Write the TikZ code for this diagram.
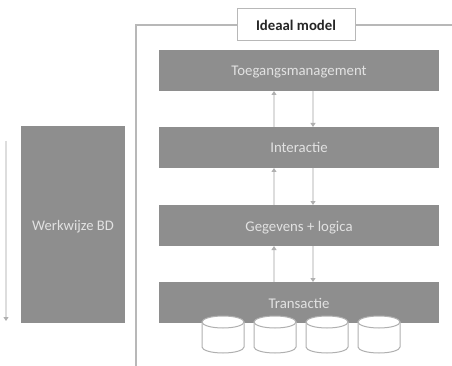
\documentclass[tikz,border=0pt]{standalone}
\usepackage{fontspec}
\setmainfont{Carlito}
\usetikzlibrary{arrows.meta,calc}
\definecolor{boxgray}{HTML}{8E8E8E}
\definecolor{boxtext}{HTML}{E2E2E2}
\definecolor{linkgray}{HTML}{DDDDDD}
\definecolor{headgray}{HTML}{B0B0B0}
\definecolor{framegray}{HTML}{B8B8B8}
\definecolor{cylgray}{HTML}{B0B0B0}
\tikzset{
  labelled/.style={text height=11pt,text depth=0pt,inner sep=0pt,outer sep=0pt},
  layerbox/.style={labelled,fill=boxgray,draw=none,text=boxtext,minimum width=280pt,minimum height=41pt,font=\fontsize{14.8}{16}\selectfont},
  sidebox/.style={labelled,fill=boxgray,draw=none,text=boxtext,minimum width=104pt,minimum height=197pt,font=\fontsize{14.6}{16}\selectfont},
  titlebox/.style={labelled,fill=white,draw=framegray,line width=1pt,minimum width=118pt,minimum height=32pt,font=\fontsize{14.8}{16}\selectfont\bfseries,text=black!85},
  frameline/.style={draw=framegray,line width=1.6pt},
  link/.style={draw=linkgray,line width=1.5pt,-{Triangle[length=4pt,width=5pt,color=headgray]}},
  dbline/.style={draw=cylgray,fill=white,line width=1pt},
  dbcentre/.style={inner sep=0pt,outer sep=0pt,minimum size=0pt}
}
\begin{document}
\begin{tikzpicture}[x=1pt,y=-1pt]
\useasboundingbox (0,0) rectangle (452,366);
\fill[white] (0,0) rectangle (452,366);
\coordinate (framecorner) at (136,25);
\coordinate (framebottom) at (136,366);
\coordinate (frameright) at (452,25);
\coordinate (ux) at (274,0);
\coordinate (dx) at (313,0);
\coordinate (sidetop) at (6,141);
\coordinate (sidebottom) at (6,321);
\node[titlebox] (ideal) at (296,25) {Ideaal model};
\draw[frameline] (ideal.west) -- (framecorner) -- (framebottom);
\draw[frameline] (ideal.east) -- (frameright);
\node[layerbox] (toeg) at (299,70.5) {Toegangsmanagement};
\node[layerbox] (inter) at (299,147.5) {Interactie};
\node[layerbox] (geg) at (299,225.5) {Gegevens + logica};
\node[layerbox] (trans) at (299,302.5) {Transactie};
\node[sidebox] (werk) at (73,224.5) {Werkwijze BD};
\draw[link] (inter.north -| ux) -- (toeg.south -| ux);
\draw[link] (toeg.south -| dx) -- (inter.north -| dx);
\draw[link] (geg.north -| ux) -- (inter.south -| ux);
\draw[link] (inter.south -| dx) -- (geg.north -| dx);
\draw[link] (trans.north -| ux) -- (geg.south -| ux);
\draw[link] (geg.south -| dx) -- (trans.north -| dx);
\draw[link] (sidetop) -- (sidebottom);
\foreach \n/\cx in {db1/223,db2/275,db3/327,db4/379}{
  \node[dbcentre] (\n) at (\cx,322) {};
  \draw[dbline] ($(\n)+(-21,0)$) -- ++(0,25) arc[start angle=180,end angle=360,x radius=21pt,y radius=6pt] -- ($(\n)+(21,0)$) -- cycle;
  \draw[dbline] (\n) ellipse [x radius=21pt,y radius=6pt];
}
\end{tikzpicture}
\end{document}
